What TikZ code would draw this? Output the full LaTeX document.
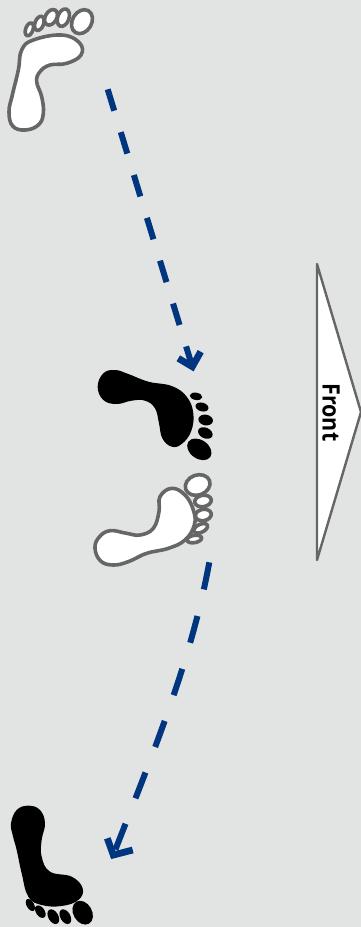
\documentclass[tikz,border=0pt]{standalone}
\usepackage{fontspec}
\setmainfont{Open Sans}
\definecolor{bggray}{HTML}{E2E4E3}
\definecolor{linegray}{HTML}{666666}
\definecolor{navy}{HTML}{00357F}
\tikzset{
  whitefoot/.style={draw=linegray,fill=white,line width=3.6pt},
  blackfoot/.style={fill=black},
  flow/.style={draw=navy,line width=6pt},
  flowhead/.style={draw=navy,line width=6.8pt,line join=miter},
  zoomed/.style={shift={#1},scale=1/3},
}
\begin{document}
\begin{tikzpicture}[x=1pt,y=-1pt]
\useasboundingbox (0,0) rectangle (361,927);
\fill[bggray] (0,0) rectangle (361,927);
% triangle
\draw[linegray,fill=white,line width=2.4pt,line join=round] (317,264) -- (361,412) -- (317,560) -- cycle;
\node[rotate=-90,font=\bfseries,xscale=2.15,yscale=2.4] (front) at (331,412.5) {Front};
% foot 1
\begin{scope}[zoomed={(0,0)}]
\draw[whitefoot] plot[smooth cycle,tension=0.7] coordinates {(100,120)(185,105)(238,128)(243,165)(200,190)(150,195)(120,215)(110,245)(125,290)(130,340)(115,375)(75,390)(38,378)(27,335)(37,285)(55,210)(65,150)};
\foreach \p/\q/\a/\b/\r in {246/65/38/29/60,190/53/27/17/70,153/52/25/17/60,118/70/22/13/70,88/88/20/11/70}
  \draw[whitefoot] (\p,\q) circle[x radius=\a,y radius=\b,rotate=\r];
\end{scope}
% foot 2
\begin{scope}[zoomed={(85,360)}]
\fill[blackfoot] plot[smooth cycle,tension=0.7] coordinates {(38,80)(55,40)(90,30)(130,42)(190,65)(260,78)(305,110)(325,160)(318,215)(290,252)(260,260)(232,235)(222,190)(210,145)(180,122)(140,122)(95,132)(55,120)};
\foreach \p/\q/\a/\b/\r in {343/268/40/28/-35,361/219/23/16/-25,362/180/22/16/-10,351/141/20/13/-15,333/109/19/11/-10}
  \fill[blackfoot] (\p,\q) circle[x radius=\a,y radius=\b,rotate=\r];
\end{scope}
% foot 3
\begin{scope}[zoomed={(85,465)}]
\draw[whitefoot] plot[smooth cycle,tension=0.7] coordinates {(30,250)(42,217)(75,197)(125,205)(165,210)(205,190)(222,140)(225,95)(260,70)(300,90)(325,135)(328,180)(300,225)(250,250)(185,265)(130,290)(85,300)(47,288)};
\foreach \p/\q/\a/\b/\r in {338/60/38/30/20,354/108/25/17/10,355/150/24/17/10,347/190/22/12/25,328/222/22/11/10}
  \draw[whitefoot] (\p,\q) circle[x radius=\a,y radius=\b,rotate=\r];
\end{scope}
% foot 4
\begin{scope}[zoomed={(0,800)}]
\fill[blackfoot] plot[smooth cycle,tension=0.7] coordinates {(33,70)(50,30)(85,17)(120,30)(135,70)(125,120)(125,170)(150,215)(215,230)(248,265)(235,300)(185,318)(125,315)(85,290)(65,220)(50,150)(38,105)};
\foreach \p/\q/\a/\b/\r in {248/338/38/28/-60,196/350/24/15/-60,160/350/24/15/-60,121/335/21/13/-55,91/315/20/11/-60}
  \fill[blackfoot] (\p,\q) circle[x radius=\a,y radius=\b,rotate=\r];
\end{scope}
% arrows
\coordinate (a1) at (107.7,89.3);
\coordinate (a2) at (192.3,366.7);
\coordinate (a2l) at (178.3,358.3);
\coordinate (a2r) at (200.7,351.7);
\coordinate (b1) at (209.3,562.3);
\coordinate (b2) at (113.3,855);
\coordinate (b2l) at (132.7,850);
\coordinate (b2r) at (107.3,838.3);
\draw[flow,dash pattern=on 22.4pt off 22.4pt] (a1) -- (a2);
\draw[flowhead] (a2l) -- (a2) -- (a2r);
\draw[flow,dash pattern=on 27.7pt off 27.3pt] (b1) .. controls (191,662) and (152.3,755) .. (b2);
\draw[flowhead] (b2l) -- (b2) -- (b2r);
\end{tikzpicture}
\end{document}
